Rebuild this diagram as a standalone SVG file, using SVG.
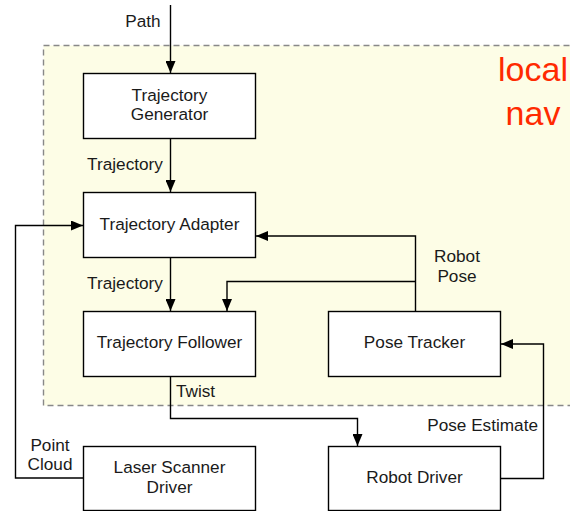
<svg xmlns="http://www.w3.org/2000/svg" width="570" height="511" viewBox="0 0 570 511">
<defs>
<style>
.box{fill:#fff;stroke:#000;stroke-width:1.4}
.t{font-family:"Liberation Sans",Arial,sans-serif;font-size:17.2px;fill:#1a1a1a;text-anchor:middle}
.lbl{font-family:"Liberation Sans",Arial,sans-serif;font-size:17.2px;fill:#1a1a1a}
.c{fill:none;stroke:#000;stroke-width:1.4}
</style>
<marker id="ah" viewBox="0 0 12 10" refX="12" refY="5" markerWidth="12" markerHeight="10" markerUnits="userSpaceOnUse" orient="auto">
<path d="M0,0 L12,5 L0,10 z" fill="#000"/>
</marker>
</defs>
<rect width="570" height="511" fill="#fff"/>
<g id="local-nav">
<rect x="43.5" y="45.5" width="540" height="360" fill="#fdfde6" stroke="#888" stroke-width="1.4" stroke-dasharray="6,4"/>
<text x="533" y="81" font-family="'Liberation Sans',Arial,sans-serif" font-size="34" fill="#ff2a00" text-anchor="middle">local</text>
<text x="533" y="125" font-family="'Liberation Sans',Arial,sans-serif" font-size="34" fill="#ff2a00" text-anchor="middle">nav</text>
</g>
<g id="connectors">
<path class="c" d="M170.5,5 V73" marker-end="url(#ah)"/>
<path class="c" d="M170.5,138 V192" marker-end="url(#ah)"/>
<path class="c" d="M170.5,257 V311" marker-end="url(#ah)"/>
<path class="c" d="M415.5,311 V236 H256" marker-end="url(#ah)"/>
<path class="c" d="M415.5,281.5 H227 V311" marker-end="url(#ah)"/>
<path class="c" d="M501,478.5 H543.5 V344 H501" marker-end="url(#ah)"/>
<path class="c" d="M170.5,376 V418.5 H357.5 V446" marker-end="url(#ah)"/>
<path class="c" d="M83,478 H15.5 V225.5 H83" marker-end="url(#ah)"/>
<text class="lbl" x="143" y="27" text-anchor="middle">Path</text>
<text class="lbl" x="125" y="170" text-anchor="middle">Trajectory</text>
<text class="lbl" x="125" y="289" text-anchor="middle">Trajectory</text>
<text class="lbl" x="457" y="262" text-anchor="middle">Robot</text>
<text class="lbl" x="457" y="282" text-anchor="middle">Pose</text>
<text class="lbl" x="176" y="397">Twist</text>
<text class="lbl" x="538" y="431" text-anchor="end">Pose Estimate</text>
<text class="lbl" x="50" y="451" text-anchor="middle">Point</text>
<text class="lbl" x="50" y="470" text-anchor="middle">Cloud</text>
</g>
<g id="trajectory-generator">
<rect class="box" x="83.5" y="73.5" width="172" height="65"/>
<text class="t" x="169.5" y="101">Trajectory</text>
<text class="t" x="169.5" y="120">Generator</text>
</g>
<g id="trajectory-adapter">
<rect class="box" x="83.5" y="192.5" width="172" height="65"/>
<text class="t" x="169.5" y="230">Trajectory Adapter</text>
</g>
<g id="trajectory-follower">
<rect class="box" x="83.5" y="311.5" width="172" height="65"/>
<text class="t" x="169.5" y="348">Trajectory Follower</text>
</g>
<g id="pose-tracker">
<rect class="box" x="328.5" y="311.5" width="172" height="65"/>
<text class="t" x="414.5" y="348">Pose Tracker</text>
</g>
<g id="laser-scanner-driver">
<rect class="box" x="83.5" y="446.5" width="172" height="64"/>
<text class="t" x="169.5" y="473">Laser Scanner</text>
<text class="t" x="169.5" y="493">Driver</text>
</g>
<g id="robot-driver">
<rect class="box" x="328.5" y="446.5" width="172" height="64"/>
<text class="t" x="414.5" y="483">Robot Driver</text>
</g>
</svg>
